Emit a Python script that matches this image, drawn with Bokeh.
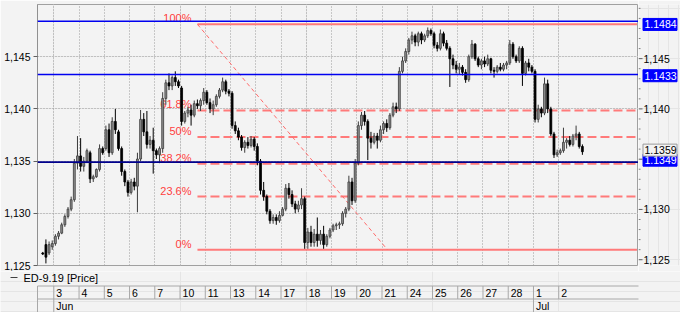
from bokeh.plotting import figure
from bokeh.models import Range1d, FixedTicker, LinearAxis, Grid, Span, ColumnDataSource
from bokeh.layouts import column, row
from bokeh.embed import file_html
from bokeh.resources import INLINE
from bokeh.core.properties import value

# ---------------- data ----------------
day_labels = ["3", "4", "5", "6", "7", "10", "11", "13", "14", "17", "18",
              "19", "20", "21", "24", "25", "26", "27", "28", "1", "2"]
month_labels = ["Jun", "Jul"]
month_start_day = [0, 19]
bars_per_day = 8
first_bar_slot = -4          # first bars belong to the evening session before Jun 3

open_ = [
    1.1262, 1.1270, 1.1262, 1.1268,
    1.1271, 1.1278, 1.1281, 1.1289, 1.1297, 1.1304, 1.1313, 1.1348,
    1.1355, 1.1345, 1.1350, 1.1358, 1.1333, 1.1335, 1.1342, 1.1362,
    1.1362, 1.1380, 1.1358, 1.1388, 1.1378, 1.1362, 1.1340, 1.1330,
    1.1320, 1.1330, 1.1326, 1.1352, 1.1390, 1.1378, 1.1366, 1.1370,
    1.1360, 1.1356, 1.1362, 1.1410, 1.1425, 1.1422, 1.1430, 1.1426,
    1.1420, 1.1388, 1.1396, 1.1399, 1.1394, 1.1405, 1.1403, 1.1408,
    1.1416, 1.1406, 1.1400, 1.1404, 1.1412, 1.1418, 1.1426, 1.1417,
    1.1415, 1.1384, 1.1379, 1.1373, 1.1363, 1.1368, 1.1365, 1.1371,
    1.1364, 1.1350, 1.1322, 1.1316, 1.1302, 1.1293, 1.1296, 1.1293,
    1.1298, 1.1304, 1.1324, 1.1318, 1.1309, 1.1304, 1.1308, 1.1314,
    1.1272, 1.1282, 1.1272, 1.1280, 1.1274, 1.1280, 1.1270, 1.1278,
    1.1284, 1.1288, 1.1289, 1.1290, 1.1300, 1.1304, 1.1330, 1.1312,
    1.1348, 1.1384, 1.1394, 1.1388, 1.1372, 1.1368, 1.1374, 1.1370,
    1.1380, 1.1386, 1.1382, 1.1394, 1.1402, 1.1400, 1.1436, 1.1446,
    1.1455, 1.1466, 1.1470, 1.1464, 1.1472, 1.1466, 1.1470, 1.1475,
    1.1472, 1.1461, 1.1458, 1.1472, 1.1463, 1.1458, 1.1448, 1.1442,
    1.1438, 1.1440, 1.1435, 1.1428, 1.1450, 1.1462, 1.1448, 1.1442,
    1.1446, 1.1443, 1.1448, 1.1437, 1.1436, 1.1440, 1.1438, 1.1442,
    1.1444, 1.1462, 1.1450, 1.1446, 1.1458, 1.1434, 1.1444, 1.1440,
    1.1436, 1.1390, 1.1400, 1.1396, 1.1424, 1.1400, 1.1376, 1.1356,
    1.1358, 1.1360, 1.1368, 1.1370, 1.1366, 1.1374, 1.1376, 1.1364,
]
high = [
    1.1263, 1.1275, 1.1273, 1.1274,
    1.1280, 1.1283, 1.1291, 1.1299, 1.1306, 1.1316, 1.1352, 1.1374,
    1.1372, 1.1354, 1.1362, 1.1360, 1.1337, 1.1343, 1.1366, 1.1364,
    1.1384, 1.1386, 1.1392, 1.1400, 1.1380, 1.1364, 1.1342, 1.1332,
    1.1333, 1.1334, 1.1358, 1.1399, 1.1396, 1.1398, 1.1374, 1.1382,
    1.1362, 1.1364, 1.1416, 1.1428, 1.1434, 1.1432, 1.1436, 1.1428,
    1.1422, 1.1398, 1.1402, 1.1404, 1.1408, 1.1409, 1.1410, 1.1420,
    1.1418, 1.1410, 1.1408, 1.1414, 1.1420, 1.1430, 1.1428, 1.1419,
    1.1417, 1.1388, 1.1382, 1.1375, 1.1370, 1.1373, 1.1374, 1.1373,
    1.1367, 1.1352, 1.1330, 1.1318, 1.1304, 1.1299, 1.1299, 1.1302,
    1.1306, 1.1328, 1.1329, 1.1322, 1.1312, 1.1312, 1.1324, 1.1316,
    1.1286, 1.1288, 1.1285, 1.1296, 1.1284, 1.1288, 1.1280, 1.1286,
    1.1290, 1.1291, 1.1292, 1.1302, 1.1306, 1.1336, 1.1334, 1.1352,
    1.1388, 1.1397, 1.1398, 1.1390, 1.1378, 1.1377, 1.1377, 1.1384,
    1.1388, 1.1390, 1.1396, 1.1406, 1.1406, 1.1440, 1.1450, 1.1458,
    1.1468, 1.1474, 1.1472, 1.1474, 1.1474, 1.1472, 1.1478, 1.1477,
    1.1474, 1.1464, 1.1476, 1.1474, 1.1466, 1.1460, 1.1452, 1.1446,
    1.1444, 1.1442, 1.1438, 1.1452, 1.1466, 1.1463, 1.1450, 1.1448,
    1.1450, 1.1452, 1.1449, 1.1440, 1.1442, 1.1444, 1.1444, 1.1446,
    1.1466, 1.1464, 1.1452, 1.1460, 1.1460, 1.1446, 1.1448, 1.1442,
    1.1438, 1.1404, 1.1402, 1.1430, 1.1428, 1.1402, 1.1378, 1.1361,
    1.1362, 1.1382, 1.1372, 1.1374, 1.1376, 1.1384, 1.1378, 1.1366,
]
low = [
    1.1260, 1.1252, 1.1260, 1.1265,
    1.1269, 1.1275, 1.1280, 1.1287, 1.1295, 1.1302, 1.1311, 1.1342,
    1.1340, 1.1340, 1.1348, 1.1329, 1.1330, 1.1334, 1.1340, 1.1356,
    1.1360, 1.1354, 1.1356, 1.1376, 1.1360, 1.1336, 1.1326, 1.1316,
    1.1318, 1.1322, 1.1301, 1.1350, 1.1374, 1.1362, 1.1362, 1.1338,
    1.1352, 1.1348, 1.1358, 1.1404, 1.1418, 1.1418, 1.1422, 1.1420,
    1.1384, 1.1386, 1.1392, 1.1384, 1.1392, 1.1400, 1.1398, 1.1404,
    1.1404, 1.1396, 1.1394, 1.1402, 1.1410, 1.1416, 1.1414, 1.1412,
    1.1381, 1.1376, 1.1370, 1.1360, 1.1358, 1.1362, 1.1363, 1.1360,
    1.1346, 1.1318, 1.1312, 1.1299, 1.1290, 1.1290, 1.1289, 1.1291,
    1.1297, 1.1302, 1.1314, 1.1306, 1.1300, 1.1301, 1.1304, 1.1266,
    1.1266, 1.1268, 1.1268, 1.1268, 1.1270, 1.1266, 1.1268, 1.1276,
    1.1282, 1.1284, 1.1285, 1.1288, 1.1296, 1.1302, 1.1308, 1.1310,
    1.1346, 1.1380, 1.1384, 1.1351, 1.1362, 1.1366, 1.1362, 1.1368,
    1.1376, 1.1378, 1.1380, 1.1392, 1.1396, 1.1398, 1.1434, 1.1444,
    1.1452, 1.1462, 1.1460, 1.1460, 1.1462, 1.1464, 1.1468, 1.1470,
    1.1458, 1.1455, 1.1456, 1.1460, 1.1456, 1.1421, 1.1438, 1.1434,
    1.1433, 1.1432, 1.1425, 1.1426, 1.1448, 1.1446, 1.1440, 1.1438,
    1.1440, 1.1441, 1.1434, 1.1430, 1.1434, 1.1436, 1.1436, 1.1438,
    1.1442, 1.1448, 1.1444, 1.1444, 1.1422, 1.1432, 1.1436, 1.1434,
    1.1387, 1.1387, 1.1392, 1.1394, 1.1396, 1.1374, 1.1353, 1.1354,
    1.1356, 1.1358, 1.1362, 1.1364, 1.1364, 1.1370, 1.1362, 1.1356,
]
close = [
    1.1261, 1.1258, 1.1270, 1.1271,
    1.1278, 1.1281, 1.1289, 1.1297, 1.1304, 1.1313, 1.1348, 1.1355,
    1.1345, 1.1350, 1.1360, 1.1333, 1.1335, 1.1342, 1.1362, 1.1358,
    1.1380, 1.1358, 1.1388, 1.1380, 1.1362, 1.1340, 1.1330, 1.1320,
    1.1330, 1.1326, 1.1352, 1.1390, 1.1378, 1.1366, 1.1370, 1.1360,
    1.1356, 1.1362, 1.1410, 1.1425, 1.1422, 1.1430, 1.1426, 1.1422,
    1.1388, 1.1396, 1.1399, 1.1394, 1.1405, 1.1403, 1.1408, 1.1416,
    1.1406, 1.1400, 1.1404, 1.1412, 1.1418, 1.1426, 1.1417, 1.1415,
    1.1384, 1.1379, 1.1373, 1.1363, 1.1368, 1.1365, 1.1371, 1.1364,
    1.1350, 1.1322, 1.1316, 1.1302, 1.1293, 1.1296, 1.1293, 1.1298,
    1.1304, 1.1324, 1.1318, 1.1309, 1.1304, 1.1308, 1.1314, 1.1272,
    1.1282, 1.1272, 1.1280, 1.1274, 1.1280, 1.1270, 1.1278, 1.1284,
    1.1288, 1.1289, 1.1290, 1.1300, 1.1304, 1.1330, 1.1312, 1.1348,
    1.1384, 1.1394, 1.1388, 1.1372, 1.1368, 1.1374, 1.1370, 1.1380,
    1.1386, 1.1382, 1.1394, 1.1402, 1.1400, 1.1436, 1.1446, 1.1455,
    1.1466, 1.1470, 1.1464, 1.1472, 1.1466, 1.1470, 1.1475, 1.1472,
    1.1461, 1.1458, 1.1472, 1.1463, 1.1458, 1.1448, 1.1442, 1.1438,
    1.1440, 1.1435, 1.1428, 1.1450, 1.1462, 1.1448, 1.1442, 1.1446,
    1.1443, 1.1448, 1.1437, 1.1436, 1.1440, 1.1438, 1.1442, 1.1444,
    1.1462, 1.1450, 1.1446, 1.1458, 1.1434, 1.1444, 1.1440, 1.1436,
    1.1390, 1.1400, 1.1396, 1.1424, 1.1400, 1.1376, 1.1356, 1.1358,
    1.1360, 1.1368, 1.1370, 1.1366, 1.1374, 1.1376, 1.1364, 1.1359,
]

level_prices = [1.1484, 1.1433, 1.1349]
level_texts = ["1.1484", "1.1433", "1.1349"]
last_price = 1.1359
last_price_text = "1.1359"

fib_high = 1.1481
fib_low = 1.1265
fib_ratios = [1.0, 0.618, 0.5, 0.382, 0.236, 0.0]
fib_labels = ["100%", "61.8%", "50%", "38.2%", "23.6%", "0%"]
fib_start_day = 5.69
fib_end_day = 13.22

y_ticks = [1.125, 1.130, 1.135, 1.140, 1.145]
y_tick_labels = ["1,125", "1,130", "1,135", "1,140", "1,145"]
legend_text = "ED-9.19 [Price]"

# ---------------- layout constants ----------------
W = 680
FRAME_L, FRAME_R = 37, 638
TOP_H, FRAME_T, FRAME_B = 271, 4, 6
X0, X1 = -0.646, 23.16
Y0, Y1 = 1.125, 1.150
BG = "#f3f3f3"
FONT = "Liberation Sans"
FS = "10.5px"

n = len(close)
xs = [(i + first_bar_slot + 0.5) / bars_per_day for i in range(n)]
up = [c >= o for o, c in zip(open_, close)]
src = ColumnDataSource(dict(
    x=xs, o=open_, h=high, l=low, c=close,
    top=[max(o, c) for o, c in zip(open_, close)],
    bot=[min(o, c) for o, c in zip(open_, close)],
    fill=["#8f8f8f" if u else "#000000" for u in up],
    edge=["#3c3c3c" if u else "#000000" for u in up],
))

# ---------------- main price panel ----------------
p = figure(width=FRAME_R, height=TOP_H, x_range=Range1d(X0, X1), y_range=Range1d(Y0, Y1),
           output_backend="svg", toolbar_location=None,
           x_axis_location=None, y_axis_location=None,
           min_border_left=FRAME_L, min_border_right=0,
           min_border_top=FRAME_T, min_border_bottom=FRAME_B,
           background_fill_color=BG, border_fill_color=BG,
           outline_line_color="#a0a0a0")

overrides = dict(zip(y_ticks, y_tick_labels))
ax = LinearAxis(ticker=FixedTicker(ticks=y_ticks, minor_ticks=[]),
                major_label_overrides=overrides,
                axis_line_color="#909090", major_tick_line_color="#606060",
                major_tick_out=4, major_tick_in=0, minor_tick_out=0, minor_tick_in=0,
                major_label_standoff=3,
                major_label_text_font=FONT, major_label_text_font_size=FS,
                major_label_text_color="#000000")
p.add_layout(ax, "left")

p.add_layout(Grid(dimension=1, ticker=FixedTicker(ticks=y_ticks),
                  grid_line_color="#9a9a9a", grid_line_dash="1 2"))
p.add_layout(Grid(dimension=0, ticker=FixedTicker(ticks=list(range(len(day_labels)))),
                  grid_line_color="#9a9a9a", grid_line_dash="1 2"))

# Fibonacci retracement
fib_levels = [fib_low + r * (fib_high - fib_low) for r in fib_ratios]
fib_end_x = X1 - 0.06
for r, lv in zip(fib_ratios, fib_levels):
    solid = r in (0.0, 1.0)
    p.segment(x0=[fib_start_day], y0=[lv], x1=[fib_end_x], y1=[lv],
              line_color="#ff7a7a", line_width=2,
              line_dash="solid" if solid else "9 4")
p.line([fib_start_day, fib_end_day], [fib_high, fib_low],
       line_color="#ff6a6a", line_width=1, line_dash="4 3")
p.text(x=[fib_start_day] * len(fib_levels), y=fib_levels, text=fib_labels,
       x_offset=-6, text_align="right", text_baseline="bottom",
       text_color="#ff4040", text_font=value(FONT), text_font_size="11px")

# horizontal levels
for k, lv in enumerate(level_prices):
    p.add_layout(Span(location=lv, dimension="width",
                      line_color="#00008c" if k == 2 else "#0000f0", line_width=1.6))

# candles
p.segment(x0="x", y0="l", x1="x", y1="h", line_color="edge", line_width=1, source=src)
p.vbar(x="x", width=0.075, top="top", bottom="bot", fill_color="fill",
       line_color="edge", line_width=0.8, source=src)

# ---------------- right price scale (same price mapping as main panel) ----------------
RW = W - FRAME_R
ppy = (TOP_H - FRAME_T - FRAME_B) / (Y1 - Y0)
pr = figure(width=RW, height=TOP_H, x_range=Range1d(0, RW),
            y_range=Range1d(Y0 - FRAME_B / ppy, Y1 + FRAME_T / ppy),
            output_backend="svg", toolbar_location=None,
            x_axis_location=None, y_axis_location=None,
            min_border=0, min_border_left=0, min_border_right=0,
            min_border_top=0, min_border_bottom=0,
            background_fill_color=BG, border_fill_color=BG, outline_line_color=None)
minor = [round(Y0 + 0.001 * k, 4) for k in range(26) if round(Y0 + 0.001 * k, 4) not in y_ticks]
pr.segment(x0=[0] * len(y_ticks), y0=y_ticks, x1=[4] * len(y_ticks), y1=y_ticks,
           line_color="#606060", line_width=1)
pr.segment(x0=[0] * len(minor), y0=minor, x1=[2] * len(minor), y1=minor,
           line_color="#808080", line_width=1)
pr.text(x=[5] * len(y_ticks), y=y_ticks, text=y_tick_labels, text_align="left",
        text_baseline="middle", text_color="#000000", text_font=value(FONT),
        text_font_size=FS)
pr.rect(x=[21.5] * len(level_prices), y=level_prices, width=34, height=12,
        height_units="screen", fill_color="#0000ff", line_color="#0000ff")
pr.text(x=[6] * len(level_prices), y=level_prices, text=level_texts, text_align="left",
        text_baseline="middle", text_color="#ffffff", text_font=value(FONT),
        text_font_size=FS)
pr.rect(x=[21.5], y=[last_price], width=34, height=12, height_units="screen",
        fill_color=BG, line_color="#9a9a9a")
pr.text(x=[6], y=[last_price], text=[last_price_text], text_align="left",
        text_baseline="middle", text_color="#000000", text_font=value(FONT),
        text_font_size=FS)

# ---------------- bottom date axis ----------------
ppd = (FRAME_R - FRAME_L) / (X1 - X0)
BX0 = X0 - FRAME_L / ppd
BX1 = X1 + (W - FRAME_R) / ppd
BH = 312 - TOP_H
pb = figure(width=W, height=BH, x_range=Range1d(BX0, BX1), y_range=Range1d(BH, 0),
            output_backend="svg", toolbar_location=None,
            x_axis_location=None, y_axis_location=None,
            min_border=0, min_border_left=0, min_border_right=0,
            min_border_top=0, min_border_bottom=0,
            background_fill_color=BG, border_fill_color=BG, outline_line_color=None)


def px(v):
    return BX0 + v / ppd


row_top, row_mid, row_bot = 14.5, 27.5, 41
line_col = "#a8a8a8"
pb.segment(x0=[X0, X0], y0=[row_top, row_mid], x1=[X1, X1], y1=[row_top, row_mid],
           line_color=line_col, line_width=1)
nd = len(day_labels)
pb.segment(x0=list(range(nd)), y0=[row_top] * nd, x1=list(range(nd)), y1=[row_mid] * nd,
           line_color=line_col, line_width=1)
pb.segment(x0=[X0], y0=[row_top], x1=[X0], y1=[row_bot], line_color=line_col, line_width=1)
pb.segment(x0=month_start_day, y0=[row_mid] * len(month_start_day),
           x1=month_start_day, y1=[row_bot] * len(month_start_day),
           line_color=line_col, line_width=1)
pb.text(x=list(range(nd)), y=[(row_top + row_mid) / 2] * nd, text=day_labels,
        x_offset=2.5, text_align="left", text_baseline="middle",
        text_color="#000000", text_font=value(FONT), text_font_size=FS)
pb.text(x=month_start_day, y=[(row_mid + row_bot) / 2] * len(month_start_day),
        text=month_labels, x_offset=2.5, text_align="left", text_baseline="middle",
        text_color="#000000", text_font=value(FONT), text_font_size=FS)
# legend
pb.segment(x0=[px(10)], y0=[6], x1=[px(17)], y1=[6], line_color="#404040", line_width=1)
pb.text(x=[px(23)], y=[6], text=[legend_text], text_align="left", text_baseline="middle",
        text_color="#000000", text_font=value(FONT), text_font_size="11px")

layout = column(row(p, pr, spacing=0), pb, spacing=0)
open("out.html", "w").write(file_html(layout, INLINE))
